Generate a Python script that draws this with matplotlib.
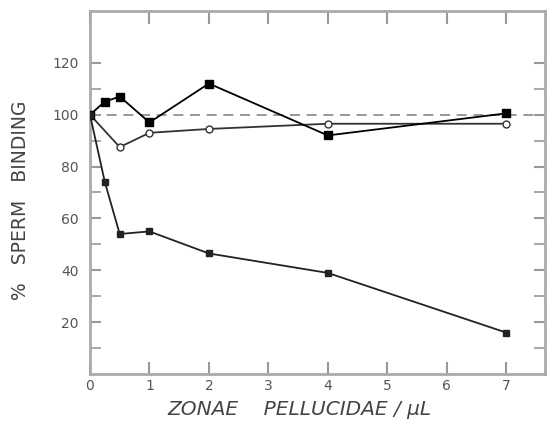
import numpy as np
import matplotlib.pyplot as plt

# zonae pellucidae per microlitre
x_a = [0, 0.25, 0.5, 1, 2, 4, 7]
y_a = [100, 105, 107, 97, 112, 92, 100.5]   # filled squares

x_b = [0, 0.5, 1, 2, 4, 7]
y_b = [100, 87.5, 93, 94.5, 96.5, 96.5]     # open circles

x_c = [0, 0.25, 0.5, 1, 2, 4, 7]
y_c = [100, 74, 54, 55, 46.5, 39, 16]       # small filled squares

fig = plt.figure(figsize=(5.5, 4.36), dpi=100)
ax = fig.add_axes([0.1636, 0.142, 0.827, 0.833])

ax.axhline(100, color='#888888', ls=(0, (6, 4)), lw=1.2, zorder=1)
ax.plot(x_a, y_a, '-s', color='black', ms=5.5, lw=1.3, zorder=3)
ax.plot(x_b, y_b, '-o', color='#333333', mfc='white', mec='#333333', ms=5, lw=1.3, zorder=2)
ax.plot(x_c, y_c, '-s', color='#222222', ms=4, lw=1.3, zorder=3)

ax.set_xlim(0, 7.65)
ax.set_ylim(0, 140)
ax.set_xticks(range(8))
ax.set_yticks([20, 40, 60, 80, 100, 120])
ax.set_yticks([10, 30, 50, 70, 90, 110], minor=True)
ax.tick_params(direction='in', length=9, width=1.5, color='#999999',
               labelcolor='#555555', labelsize=10, top=True, right=True)
ax.tick_params(axis='y', length=8, pad=8)
ax.tick_params(axis='y', which='minor', direction='in', length=8, width=1.5,
               color='#aaaaaa', right=True)
for s in ax.spines.values():
    s.set_color('#aaaaaa')
    s.set_linewidth(2)

fig.text(0.545, 0.06, 'ZONAE    PELLUCIDAE / \u00b5L', ha='center', va='center',
         fontsize=14.5, style='italic', color='#444444')
fig.text(0.038, 0.54, '%   SPERM   BINDING', ha='center', va='center',
         rotation=90, fontsize=13.5, color='#444444')

plt.savefig('out.png')
